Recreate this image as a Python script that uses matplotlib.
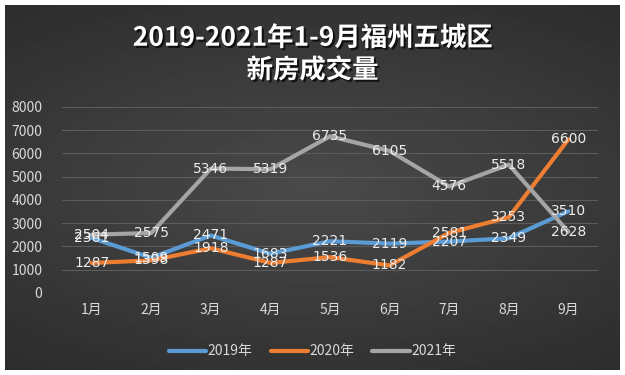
import matplotlib
matplotlib.use("Agg")
import matplotlib.pyplot as plt
import matplotlib.patheffects as pe
import numpy as np

plt.rcParams["font.family"] = ["Noto Sans CJK SC", "DejaVu Sans"]

months = ["1月", "2月", "3月", "4月", "5月", "6月", "7月", "8月", "9月"]
y2019 = [2361, 1509, 2471, 1683, 2221, 2119, 2207, 2349, 3510]
y2020 = [1287, 1398, 1918, 1287, 1536, 1182, 2581, 3253, 6600]
y2021 = [2504, 2575, 5346, 5319, 6735, 6105, 4576, 5518, 2628]
yticks = [0, 1000, 2000, 3000, 4000, 5000, 6000, 7000, 8000]

series = [("2019年", y2019, "#5b9bd5"),
          ("2020年", y2020, "#ed7d31"),
          ("2021年", y2021, "#a5a5a5")]

fig = plt.figure(figsize=(6.25, 3.75), dpi=100)
fig.patch.set_facecolor("white")

# dark gradient background
bg = fig.add_axes([0.008, 0.013, 0.984, 0.974])
gx, gy = np.meshgrid(np.linspace(-1, 1, 300), np.linspace(-1, 1, 200))
r = np.sqrt(gx ** 2 * 0.6 + gy ** 2)
bg.imshow(0.29 - 0.09 * r, cmap="gray", vmin=0, vmax=1, aspect="auto",
          extent=[0, 1, 0, 1])
bg.set_axis_off()

ax = fig.add_axes([0.099, 0.219, 0.858, 0.496])
ax.set_facecolor("none")
x = np.arange(len(months))
for name, vals, col in series:
    ax.plot(x, vals, color=col, lw=3, label=name, solid_capstyle="round")
for name, vals, col in series:
    for xi, v in zip(x, vals):
        ax.text(xi, v, str(v), ha="center", va="center", color="#ececec",
                fontsize=10, family=["DejaVu Sans"])

ax.set_xlim(-0.5, len(months) - 0.5)
ax.set_ylim(0, 8000)
ax.set_yticks(yticks)
ax.set_xticks(x)
ax.set_xticklabels(months)
ax.tick_params(colors="#d9d9d9", labelsize=10, length=0, pad=7)
ax.tick_params(axis="y", pad=14)
ax.grid(axis="y", color="#5c5c5c", lw=0.8)
for s in ax.spines.values():
    s.set_visible(False)

fig.text(0.5, 0.855, "2019-2021年1-9月福州五城区\n新房成交量", ha="center",
         va="center", color="white", fontsize=19, fontweight="bold",
         linespacing=1.25,
         path_effects=[pe.withSimplePatchShadow(offset=(1.5, -1.5),
                                                shadow_rgbFace="black", alpha=0.7)])

leg = fig.legend(loc="center", bbox_to_anchor=(0.5, 0.063), ncol=3,
                 frameon=False, fontsize=10, handlelength=2.7,
                 columnspacing=1.3, handletextpad=0.1)
for t in leg.get_texts():
    t.set_color("#d9d9d9")

fig.savefig("out.png", dpi=100, facecolor=fig.get_facecolor())
